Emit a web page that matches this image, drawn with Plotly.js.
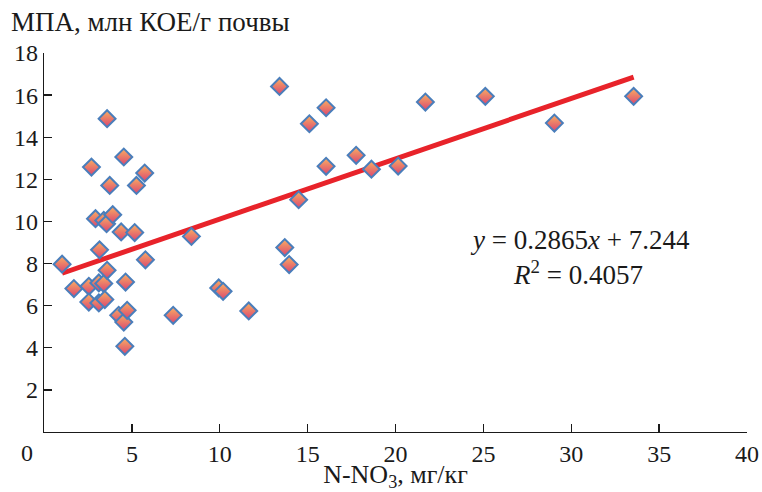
<!DOCTYPE html>
<html>
<head>
<meta charset="utf-8">
<script src="https://cdn.plot.ly/plotly-3.0.1.min.js"></script>
<style>html,body{margin:0;padding:0;background:#fff;}</style>
</head>
<body>
<div id="chart" style="width:762px;height:492px;"></div>
<script>
const nitrate = [1.03,1.70,2.55,2.55,2.70,2.93,3.12,3.12,3.16,3.40,3.40,3.46,3.56,3.59,3.59,3.74,3.91,4.25,4.39,4.54,4.54,4.60,4.64,4.73,5.16,5.26,5.73,5.77,7.35,8.39,9.94,10.19,11.65,13.40,13.70,13.95,14.49,15.10,16.05,16.05,17.76,18.63,20.15,21.70,25.11,29.04,33.55];
const mpa = [7.97,6.81,6.92,6.17,12.58,10.13,7.08,6.13,8.65,10.05,7.05,6.29,9.89,14.88,7.68,11.71,10.32,5.54,9.50,13.06,5.22,4.07,7.12,5.78,9.47,11.71,12.30,8.18,5.54,9.29,6.84,6.68,5.75,16.41,8.76,7.95,11.03,14.64,15.40,12.62,13.14,12.48,12.63,15.67,15.94,14.67,15.94];
const slope = 0.2865;
const intercept = 7.244;
const r2 = 0.4057;
const xTicks = [5,10,15,20,25,30,35,40];
const yTicks = [2,4,6,8,10,12,14,16,18];

const xMin = Math.min(...nitrate), xMax = Math.max(...nitrate);
const trendX = [xMin, xMax];
const trendY = trendX.map(v => slope*v + intercept);

const FAM = 'Liberation Serif';
const TXT = '#1a1a1a';
const data = [
  {x: trendX, y: trendY, mode:'lines', type:'scatter', line:{color:'#e8232a', width:5}, hoverinfo:'skip'},
  {x: nitrate, y: mpa, mode:'markers', type:'scatter',
   marker:{symbol:'diamond', size:13, color:'#f9b062',
     gradient:{type:'vertical', color:'#da4470'},
     line:{color:'#4a7ebb', width:2}}}
];
const layout = {
  width:762, height:492, showlegend:false,
  margin:{l:43.5, r:15.3, t:52.6, b:60.3},
  title:{text:'МПА, млн КОЕ/г почвы', font:{family:FAM, size:27, color:TXT},
    xref:'container', yref:'container', x:11/762, xanchor:'left', y:1-22/492, yanchor:'middle'},
  xaxis:{range:[0,40], tickvals:xTicks, ticktext:xTicks.map(String), ticks:'inside', ticklen:8, tickwidth:1.3, tickcolor:TXT,
    showline:true, linecolor:TXT, linewidth:1.3, showgrid:false, zeroline:false,
    tickfont:{family:FAM, size:24, color:TXT},
    title:{text:'N-NO<sub>3</sub>, мг/кг', font:{family:FAM, size:26, color:TXT}, standoff:4}},
  yaxis:{range:[0,18], tickvals:yTicks, ticktext:yTicks.map(String), ticks:'inside', ticklen:8, tickwidth:1.3, tickcolor:TXT,
    showline:true, linecolor:TXT, linewidth:1.3, showgrid:false, zeroline:false,
    tickfont:{family:FAM, size:24, color:TXT}},
  annotations:[
    {text:'0', xref:'paper', yref:'paper', x:0, y:0, xanchor:'right', yanchor:'top', xshift:-9, yshift:-6, showarrow:false, font:{family:FAM, size:24, color:TXT}},
    {text:'<i>y</i> = ' + slope + '<i>x</i> + ' + intercept, xref:'x', yref:'y', x:30.5, y:9.1, showarrow:false, font:{family:FAM, size:27, color:TXT}},
    {text:'<i>R</i><sup>2</sup> = ' + r2, xref:'x', yref:'y', x:30.4, y:7.55, showarrow:false, font:{family:FAM, size:27, color:TXT}}
  ]
};
Plotly.newPlot('chart', data, layout, {displayModeBar:false, staticPlot:true});
</script>
</body>
</html>
